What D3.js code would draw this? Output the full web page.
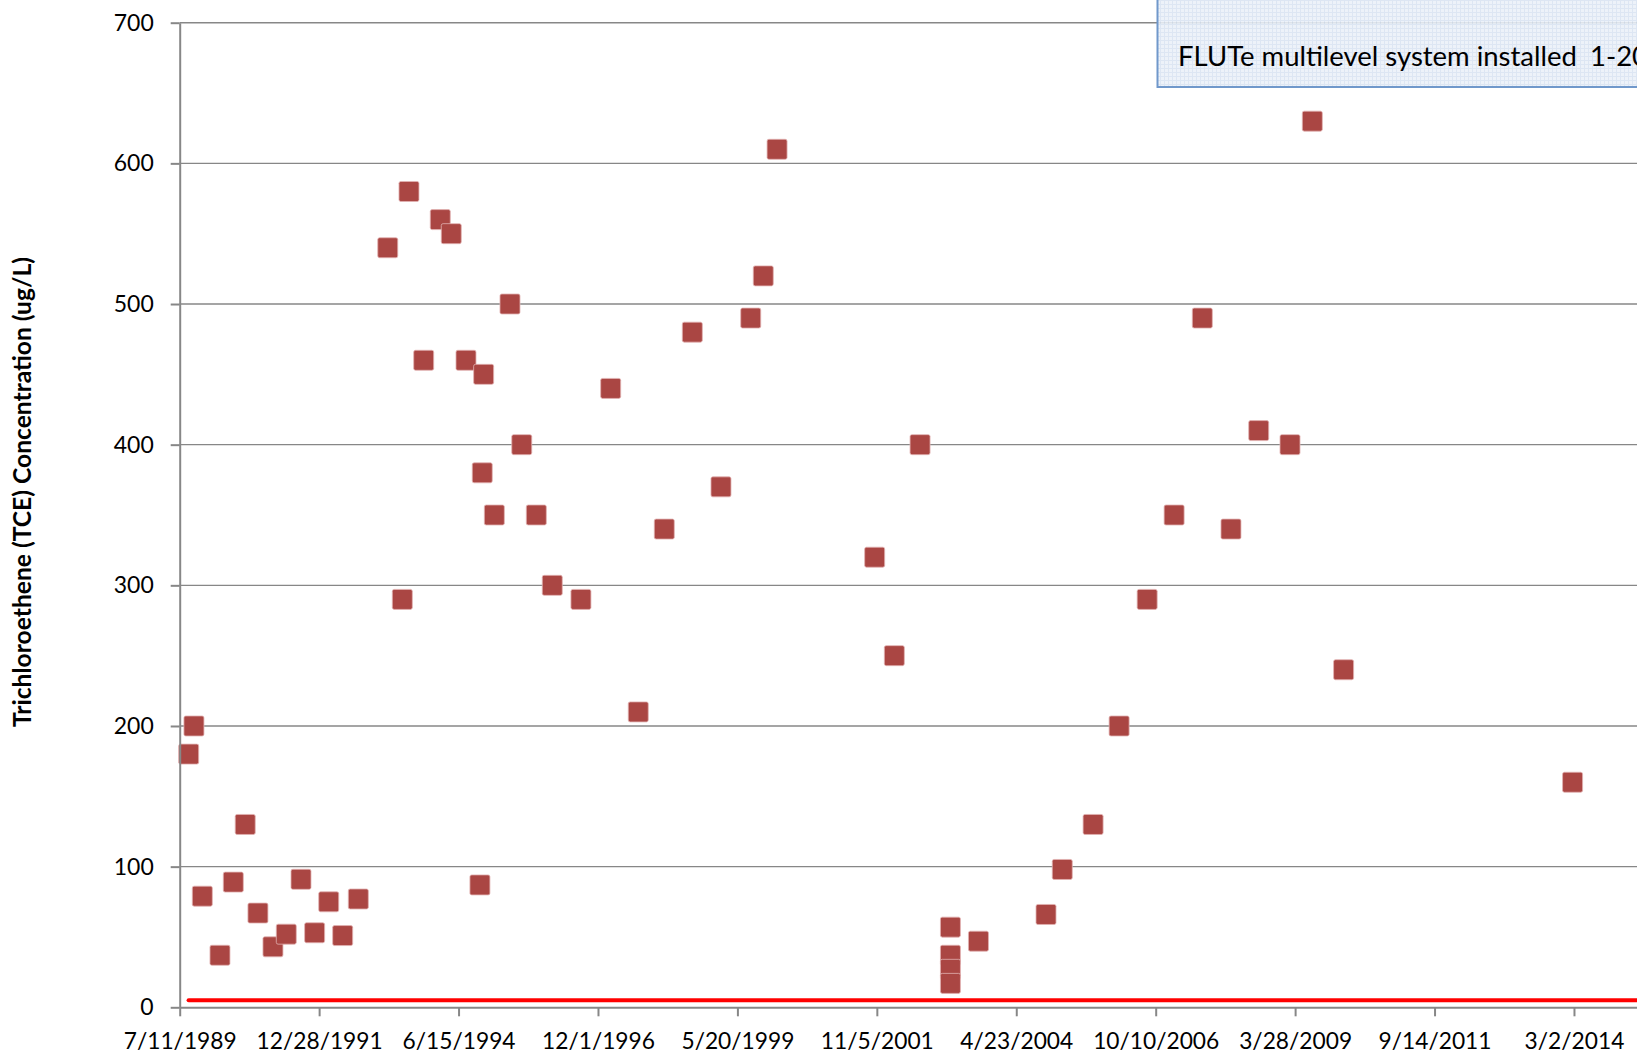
<!DOCTYPE html>
<html><head><meta charset="utf-8">
<script src="https://cdn.jsdelivr.net/npm/d3@7"></script>
<style>html,body{margin:0;padding:0;background:#fff;overflow:hidden}</style>
</head><body>
<svg id="chart" width="1637" height="1057"></svg>
<script>
// ---------- data ----------
const sampleDates = [
  "1989-09-07","1989-10-11","1989-12-04","1990-03-28","1990-06-22","1990-09-07","1990-11-28",
  "1991-03-05","1991-05-30","1991-09-02","1991-11-29","1992-02-28","1992-05-28","1992-09-06",
  "1993-03-15","1993-06-17","1993-07-30","1993-11-02","1994-02-17","1994-04-29","1994-08-02",
  "1994-10-31","1994-11-15","1994-11-24","1995-02-01","1995-05-13","1995-07-28","1995-10-30",
  "1996-02-10","1996-08-13","1997-02-21","1997-08-18","1998-02-02","1998-08-02","1999-02-03",
  "1999-08-14","1999-11-03","2000-01-31","2001-10-22","2002-02-26","2002-08-11",
  "2003-02-23","2003-02-23","2003-02-23","2003-02-23","2003-08-23",
  "2004-11-01","2005-02-14","2005-09-01","2006-02-16","2006-08-16","2007-02-06","2007-08-07",
  "2008-02-08","2008-08-05","2009-02-23","2009-07-17","2010-02-04","2014-02-21"
];
const tceValues = [
  180,200,79,37,89,130,67,
  43,52,91,53,75,51,77,
  540,290,580,460,560,550,460,
  87,380,450,350,500,400,350,
  300,290,440,210,340,480,370,
  490,520,610,320,250,400,
  57,37,27,17,47,
  66,98,130,200,290,350,490,
  340,410,400,630,240,160
];
const mclValue = 5;                       // red reference line (ug/L)
const xTickLabels = ["7/11/1989","12/28/1991","6/15/1994","12/1/1996","5/20/1999","11/5/2001",
                     "4/23/2004","10/10/2006","3/28/2009","9/14/2011","3/2/2014"];
const xDomainLabels = ["7/11/1989","8/18/2016"];
const yTickValues = [0,100,200,300,400,500,600,700];
const yDomain = [0,700];
const yAxisTitle = "Trichloroethene (TCE) Concentration (ug/L)";
const annotationText = "FLUTe multilevel system installed";
const annotationSuffix = "1-20";

// ---------- setup ----------
const svg = d3.select("#chart");
const FONT = "Lato, 'Open Sans', 'Liberation Sans', sans-serif";
const parseMDY = d3.utcParse("%m/%d/%Y");
const parseISO = d3.utcParse("%Y-%m-%d");

const plot = {left:179.7, right:1713.4, top:22.7, bottom:1007.3};
const x = d3.scaleUtc().domain(xDomainLabels.map(parseMDY)).range([plot.left, plot.right]);
const y = d3.scaleLinear().domain(yDomain).range([plot.bottom, plot.top]);

const points = sampleDates.map((d,i)=>({date:parseISO(d), value:tceValues[i]}));

// font sizing helper (fit a sample string to a target width)
function fitSize(str, target, weight){
  const t = svg.append("text").attr("font-family",FONT).attr("font-size",100)
     .attr("font-weight",weight||"normal").text(str);
  const w = t.node().getComputedTextLength(); t.remove();
  return 100*target/w;
}
const tickFont = fitSize("7/11/1989", 113);
const yTickFont = fitSize("700", 40);

const GRID = "#878787";

// gridlines
svg.append("g").selectAll("line").data(yTickValues.filter(v=>v>0)).join("line")
  .attr("x1",plot.left).attr("x2",plot.right)
  .attr("y1",d=>y(d)).attr("y2",d=>y(d))
  .attr("stroke",GRID).attr("stroke-width",1.4);

// MCL red line
const firstDate = d3.min(points, d=>d.date);
svg.append("line")
  .attr("x1",x(firstDate)).attr("x2",plot.right)
  .attr("y1",y(mclValue)).attr("y2",y(mclValue))
  .attr("stroke","#FF0000").attr("stroke-width",4.2).attr("stroke-linecap","round");

// markers
const S = 20;
svg.append("g").selectAll("rect").data(points).join("rect")
  .attr("x",d=>x(d.date)-S/2).attr("y",d=>y(d.value)-S/2)
  .attr("width",S).attr("height",S).attr("rx",1.8)
  .attr("fill","#AA4643").attr("stroke","#E2B3B2").attr("stroke-width",0.8);

// axes
const yAxis = svg.append("g").attr("transform",`translate(${plot.left},0)`)
  .call(d3.axisLeft(y).tickValues(yTickValues).tickSize(9).tickSizeOuter(0).tickPadding(17)
        .tickFormat(d3.format("d")));
const xAxis = svg.append("g").attr("transform",`translate(0,${plot.bottom})`)
  .call(d3.axisBottom(x).tickValues(xTickLabels.map(parseMDY)).tickSize(9).tickSizeOuter(0).tickPadding(17)
        .tickFormat((d,i)=>xTickLabels[i]));
[yAxis,xAxis].forEach(g=>{
  g.select(".domain").attr("stroke",GRID).attr("stroke-width",2);
  g.selectAll(".tick line").attr("stroke",GRID).attr("stroke-width",2);
  g.selectAll(".tick text").attr("fill","#000").attr("font-family",FONT);
});
yAxis.selectAll(".tick text").attr("font-size",yTickFont);
xAxis.selectAll(".tick text").attr("font-size",tickFont);

// y axis title
const titleFont = fitSize(yAxisTitle, 470, "bold");
svg.append("text")
  .attr("transform",`translate(31,492) rotate(-90)`)
  .attr("text-anchor","middle")
  .attr("font-family",FONT).attr("font-weight","bold").attr("font-size",titleFont)
  .attr("fill","#000").text(yAxisTitle);

// annotation box
const defs = svg.append("defs");
const pat = defs.append("pattern").attr("id","grid").attr("width",4).attr("height",4)
  .attr("patternUnits","userSpaceOnUse");
pat.append("rect").attr("width",4).attr("height",4).attr("fill","#EAF0F8");
pat.append("path").attr("d","M0 0.5H4M0.5 0V4").attr("stroke","#D8E3F1").attr("stroke-width",1);
const box = svg.append("g");
box.append("rect").attr("x",1157.5).attr("y",-20).attr("width",600).attr("height",107)
  .attr("fill","url(#grid)").attr("fill-opacity",0.88)
  .attr("stroke","#7098CB").attr("stroke-width",2);
const annFont = fitSize(annotationText, 399);
const ann = box.append("text").attr("x",1178).attr("y",65.5)
  .attr("font-family",FONT).attr("font-size",annFont).attr("fill","#000");
ann.append("tspan").text(annotationText);
ann.append("tspan").attr("x",1590).text(annotationSuffix);
</script>
</body></html>
